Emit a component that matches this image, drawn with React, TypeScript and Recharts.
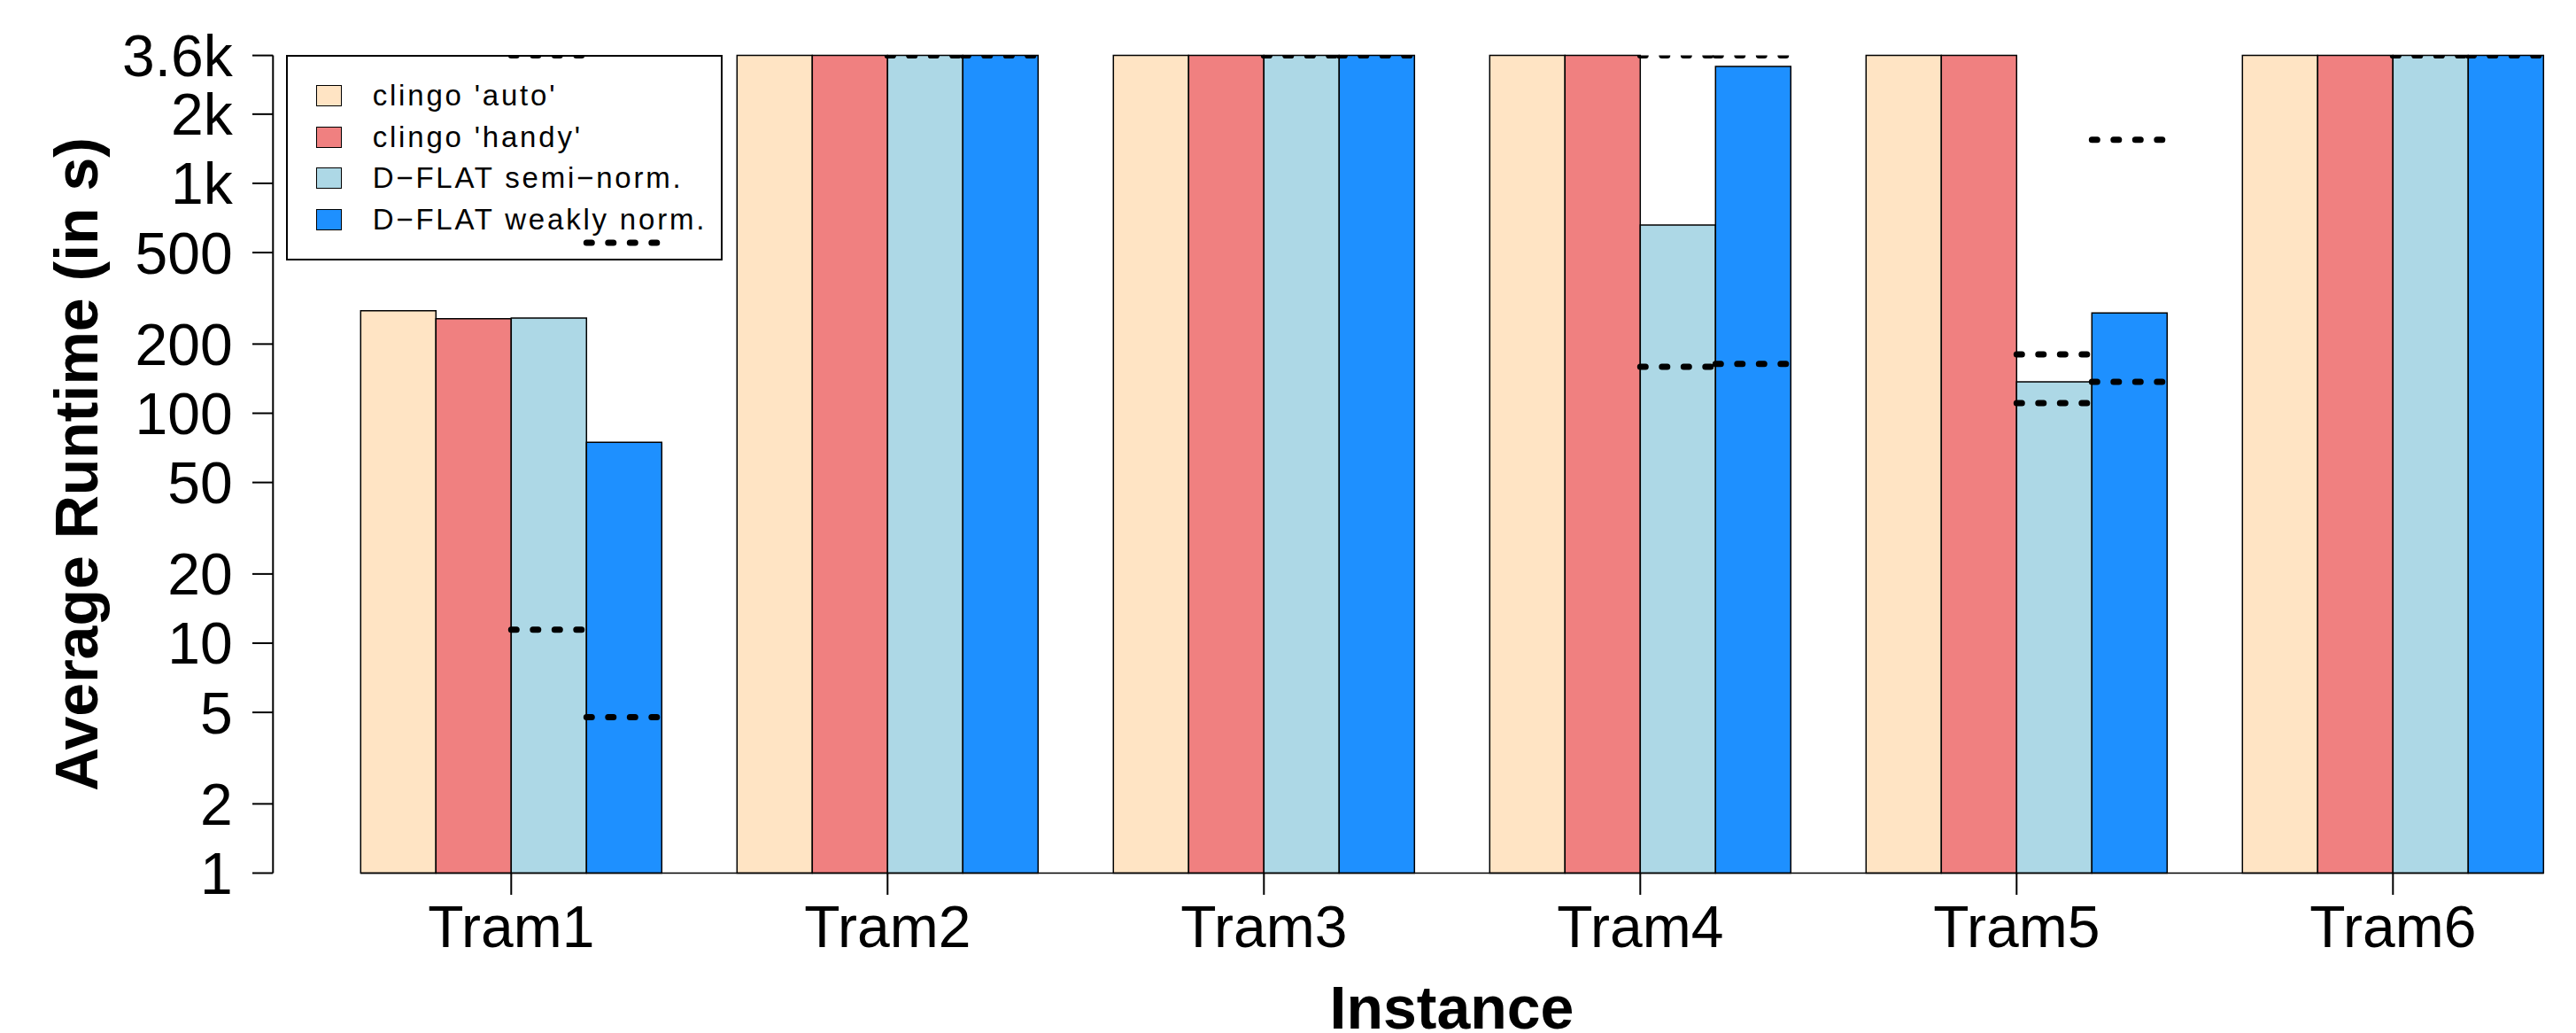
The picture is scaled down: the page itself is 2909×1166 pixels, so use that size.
import React from 'react';
import { ComposedChart, Bar, XAxis, YAxis, ReferenceLine, Legend } from 'recharts';

// ---- data ----
const instances = ['Tram1', 'Tram2', 'Tram3', 'Tram4', 'Tram5', 'Tram6'];
const seriesNames = ["clingo 'auto'", "clingo 'handy'", 'D\u2212FLAT semi\u2212norm.', 'D\u2212FLAT weakly norm.'];
const seriesKeys = ['auto', 'handy', 'semi', 'weakly'];
const seriesColors = ['#FFE4C4', '#F08080', '#ADD8E6', '#1E90FF'];

const clingoAuto = [279, 3600, 3600, 3600, 3600, 3600];
const clingoHandy = [258, 3600, 3600, 3600, 3600, 3600];
const dflatSemi = [259.5, 3600, 3600, 659, 137, 3600];
const dflatWeakly = [74.8, 3600, 3600, 3227, 273, 3600];

const dflatSemiMin = [11.45, 3600, 3600, 159.3, 110.7, 3600];
const dflatSemiMax = [3600, 3600, 3600, 3600, 180.4, 3600];
const dflatWeaklyMin = [4.77, 3600, 3600, 164, 137, 3600];
const dflatWeaklyMax = [552, 3600, 3600, 3600, 1549, 3600];

const yTicks = [1, 2, 5, 10, 20, 50, 100, 200, 500, 1000, 2000, 3600];
const yTickLabels = ['1', '2', '5', '10', '20', '50', '100', '200', '500', '1k', '2k', '3.6k'];

const data = instances.map((name, i) => ({
  name,
  auto: clingoAuto[i],
  handy: clingoHandy[i],
  semi: dflatSemi[i],
  weakly: dflatWeakly[i],
}));

// series index -> min / max lists
const rangeMarkers: { series: number; values: number[] }[] = [
  { series: 2, values: dflatSemiMin },
  { series: 2, values: dflatSemiMax },
  { series: 3, values: dflatWeaklyMin },
  { series: 3, values: dflatWeaklyMax },
];

const FONT = '"Liberation Sans", Arial, Helvetica, sans-serif';
const GROUP = 5; // 4 bars + 1 gap, in bar-width units on the hidden numeric axis

const YTitle = (props: any) => {
  const vb = props.viewBox || { x: 0, y: 62.6, width: 308.3, height: 922.9 };
  const cx = vb.x + 110;
  const cy = vb.y + vb.height / 2;
  return (
    <text x={cx} y={cy} transform={`rotate(-90 ${cx} ${cy})`} textAnchor="middle"
      fontSize={68} fontWeight="bold" fill="#000" fontFamily={FONT}>
      Average Runtime (in s)
    </text>
  );
};

const XTitle = (props: any) => {
  const vb = props.viewBox || { x: 308.3, y: 985.5, width: 2606.5, height: 180.5 };
  return (
    <text x={vb.x + 1331.2} y={vb.y + 175.5} textAnchor="middle"
      fontSize={68} fontWeight="bold" fill="#000" fontFamily={FONT}>
      Instance
    </text>
  );
};

const LegendBox = () => (
  <div style={{
    boxSizing: 'border-box', width: '100%', height: '100%', border: '2px solid #000',
    paddingTop: 21, fontFamily: FONT,
  }}>
    {seriesNames.map((n, i) => (
      <div key={n} style={{ height: 46.4, display: 'flex', alignItems: 'center' }}>
        <div style={{
          boxSizing: 'border-box', width: 28.4, height: 24, marginLeft: 32, flex: 'none',
          background: seriesColors[i], border: '1.5px solid #000',
        }} />
        <span style={{ marginLeft: 35, fontSize: 33, letterSpacing: 2.8, color: '#000', whiteSpace: 'nowrap' }}>{n}</span>
      </div>
    ))}
  </div>
);

export default function App() {
  return (
    <div style={{ position: 'absolute', left: 0, top: 0, width: 2909, height: 1166, overflow: 'hidden', background: '#fff', fontFamily: FONT }}>
      <ComposedChart width={2920} height={1166} data={data}
        margin={{ top: 62.6, right: 5.2, bottom: 0, left: 0 }}
        barCategoryGap="10%" barGap={0}>
        <XAxis xAxisId="cat" dataKey="name" padding={{ left: 56.5, right: 0 }} height={180.5}
          tickSize={24.5} tickMargin={12.4} axisLine={false} interval={0}
          tick={{ fill: '#000', fontSize: 66 }} tickLine={{ stroke: '#000', strokeWidth: 2 }}
          label={<XTitle />} />
        <XAxis xAxisId="num" type="number" dataKey={() => 0} domain={[0, GROUP * instances.length]}
          allowDataOverflow hide padding={{ left: 56.5, right: 0 }} />
        <YAxis type="number" scale="log" domain={[1, 3600]} ticks={yTicks} interval={0}
          tickFormatter={(v: number) => yTickLabels[yTicks.indexOf(v)] ?? String(v)}
          width={308.3} tickSize={23.3} tickMargin={22.3}
          axisLine={{ stroke: '#000', strokeWidth: 2 }} tickLine={{ stroke: '#000', strokeWidth: 2 }}
          tick={{ fill: '#000', fontSize: 66 }} label={<YTitle />} />
        <Legend layout="horizontal" verticalAlign="middle" align="center"
          wrapperStyle={{ position: 'absolute', left: 323.3, top: 62.3, width: 492.7, height: 231.4 }}
          content={<LegendBox />} />
        {seriesKeys.map((k, s) => (
          <Bar key={k} xAxisId="cat" dataKey={k} name={seriesNames[s]} fill={seriesColors[s]}
            stroke="#000" strokeWidth={1.5} isAnimationActive={false} />
        ))}
        <ReferenceLine xAxisId="num" segment={[{ x: 0.5, y: 1 }, { x: GROUP * instances.length - 0.5, y: 1 }]}
          stroke="#000" strokeWidth={1.5} ifOverflow="visible" />
        {rangeMarkers.flatMap((m, mi) =>
          m.values.map((v, i) => {
            const x0 = GROUP * i + 0.5 + m.series;
            return (
              <ReferenceLine key={`m${mi}-${i}`} xAxisId="num"
                segment={[{ x: x0, y: v }, { x: x0 + 1, y: v }]}
                stroke="#000" strokeWidth={7} strokeDasharray="6 18.5" strokeLinecap="round"
                ifOverflow="hidden" />
            );
          })
        )}
      </ComposedChart>
    </div>
  );
}
